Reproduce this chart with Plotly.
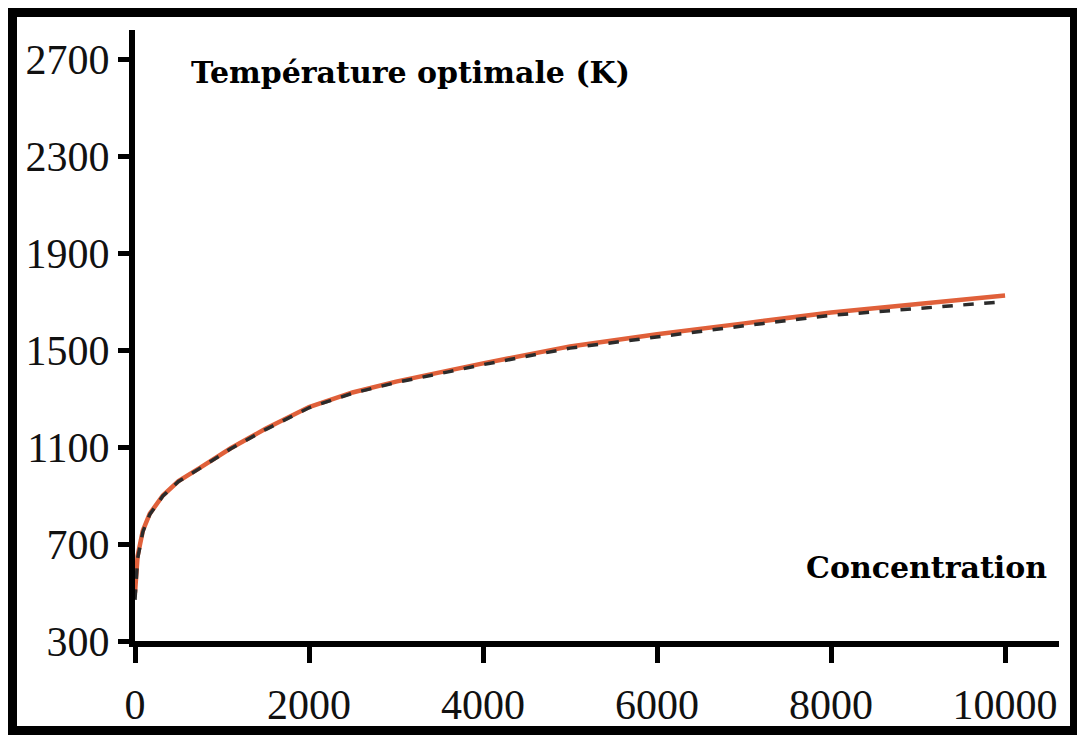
import plotly.graph_objects as go

conc = [0, 30, 90, 170, 320, 500, 750, 1100, 1500, 2000, 2500, 3000, 3600, 4000,
        5000, 6000, 7000, 8000, 9000, 10000]
temp_model = [500, 650, 755, 825, 900, 960, 1015, 1095, 1175, 1265, 1325, 1370, 1415,
              1445, 1515, 1565, 1610, 1655, 1690, 1725]
temp_fit = [470, 640, 750, 822, 898, 958, 1013, 1093, 1172, 1262, 1322, 1366, 1410,
            1440, 1508, 1555, 1600, 1643, 1673, 1700]

x_ticks = [0, 2000, 4000, 6000, 8000, 10000]
y_ticks = [300, 700, 1100, 1500, 1900, 2300, 2700]

# page has an 8px body margin: figure is placed at (8, 8) in the window
OFF = 8
W, H = 1085 - OFF, 735 - OFF
L, R, T, B = 135 - OFF, 26, 30 - OFF, 94
pw, ph = W - L - R, H - T - B

def px(x):  # window pixel -> paper
    return (x - OFF - L) / pw

def py(y):
    return (H - B - (y - OFF)) / ph

fig = go.Figure()
fig.add_trace(go.Scatter(x=conc, y=temp_model, mode="lines",
                         line=dict(color="#e0603a", width=4.5), showlegend=False))
fig.add_trace(go.Scatter(x=conc, y=temp_fit, mode="lines",
                         line=dict(color="#2b2b2b", width=3.5, dash="dash"),
                         showlegend=False))

tickfont = dict(family="Liberation Serif, Times New Roman, serif", size=42, color="#111")
fig.update_xaxes(range=[0, 10620], tickvals=x_ticks, ticktext=[str(v) for v in x_ticks],
                 showline=True, linewidth=6, linecolor="black", mirror=False,
                 ticks="outside", ticklen=16, tickwidth=5, tickcolor="black",
                 showgrid=False, zeroline=False, tickfont=tickfont,
                 ticklabelstandoff=6, automargin=False)
fig.update_yaxes(range=[300, 2820], tickvals=y_ticks, ticktext=[str(v) for v in y_ticks],
                 showline=True, linewidth=6, linecolor="black",
                 ticks="outside", ticklen=11, tickwidth=5, tickcolor="black",
                 showgrid=False, zeroline=False, tickfont=tickfont,
                 ticklabelstandoff=0, automargin=False)

annfont = dict(family="DejaVu Serif", size=30, color="black")
fig.add_annotation(x=px(410), y=py(73), xref="paper", yref="paper",
                   text="<b>Température optimale (K)</b>", showarrow=False,
                   font=annfont, xanchor="center", yanchor="middle")
fig.add_annotation(x=px(926), y=py(567), xref="paper", yref="paper",
                   text="<b>Concentration</b>", showarrow=False,
                   font=annfont, xanchor="center", yanchor="middle")

# outer frame
for (x0, y0, x1, y1) in [(8, 8, 1085, 17), (8, 726, 1085, 735), (8, 8, 17, 735),
                         (1070, 8, 1085, 735)]:
    fig.add_shape(type="rect", xref="paper", yref="paper",
                  x0=px(x0), x1=px(x1), y0=py(y0), y1=py(y1),
                  fillcolor="black", line=dict(width=0), layer="above")

fig.update_layout(width=W, height=H, margin=dict(l=L, r=R, t=T, b=B),
                  plot_bgcolor="white", paper_bgcolor="white")
fig.write_html("out.html")
